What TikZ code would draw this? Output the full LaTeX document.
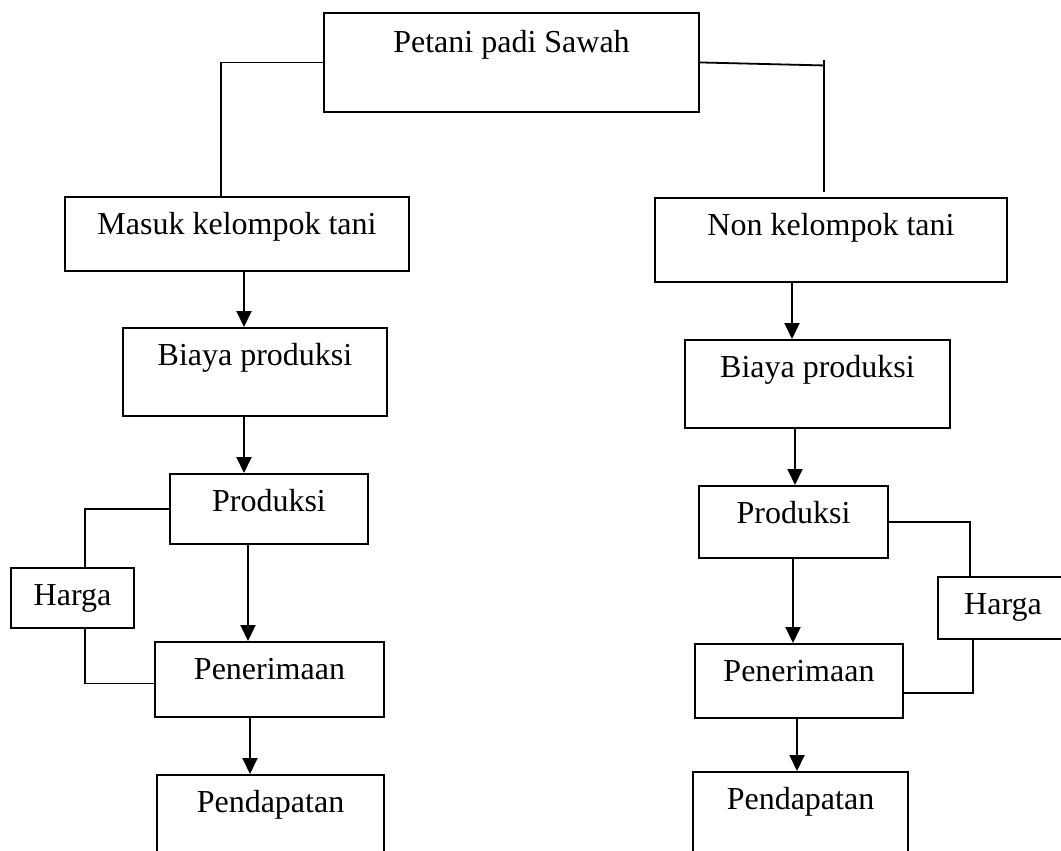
\documentclass[tikz,border=0pt]{standalone}
\usepackage{fontspec}
\setmainfont{Liberation Serif}
\usetikzlibrary{arrows.meta}
\begin{document}
\begin{tikzpicture}[
  x=1pt, y=-1pt,
  box/.style  = {draw, line width=1.9pt, inner sep=0pt, anchor=north,
                 text height=38pt, font=\fontsize{32}{38}\selectfont},
  arr/.style  = {-{Triangle[length=16pt, width=15pt]}, line width=2pt},
  link/.style = {line width=1.8pt}
]
\useasboundingbox (0,0) rectangle (1061,851);
\clip (0,0) rectangle (1061,851);
% boxes
\node[box, minimum width=375pt, text height=40pt, text depth=59pt] (petani) at (511.5,12) {Petani padi Sawah};
\node[box, minimum width=344pt, text depth=36pt] (masuk) at (237,196) {Masuk kelompok tani};
\node[box, minimum width=352pt, text depth=46pt] (non) at (831,197) {Non kelompok tani};
\node[box, minimum width=264pt, text depth=50pt] (biayaL) at (255,327) {Biaya produksi};
\node[box, minimum width=265pt, text depth=50pt] (biayaR) at (817.5,339) {Biaya produksi};
\node[box, minimum width=198pt, text depth=32pt] (prodL) at (269,473) {Produksi};
\node[box, minimum width=189pt, text depth=34pt] (prodR) at (793.5,485) {Produksi};
\node[box, minimum width=123pt, text depth=22pt] (hargaL) at (72.5,567) {Harga};
\node[box, minimum width=130pt, text depth=24pt] (hargaR) at (1003,576) {Harga};
\node[box, minimum width=229pt, text depth=37pt] (penL) at (269.5,641) {Penerimaan};
\node[box, minimum width=208pt, text depth=36pt] (penR) at (799,643) {Penerimaan};
\node[box, minimum width=227pt, text depth=80pt] (pendL) at (270.5,774) {Pendapatan};
\node[box, minimum width=215pt, text depth=80pt] (pendR) at (800.5,771) {Pendapatan};
% links from the top box
\draw[link] (petani.west) -| ([xshift=-16pt]masuk.north);
\coordinate (rk) at ([xshift=-7pt]non.north |- petani.east);
\draw[link] (petani.east) -- ([yshift=-3pt]rk);
\draw[link] ([yshift=2pt]rk) -- ([yshift=5pt]non.north -| rk);
% arrows, left column
\draw[arr] ([xshift=7pt]masuk.south) -- ([xshift=7pt]masuk.south |- biayaL.north);
\draw[arr] ([xshift=-11pt]biayaL.south) -- ([xshift=-11pt]biayaL.south |- prodL.north);
\draw[arr] ([xshift=-21pt]prodL.south) -- ([xshift=-21pt]prodL.south |- penL.north);
\draw[arr] ([xshift=-19.5pt]penL.south) -- ([xshift=-19.5pt]penL.south |- pendL.north);
% arrows, right column
\draw[arr] ([xshift=-39pt]non.south) -- ([xshift=-39pt]non.south |- biayaR.north);
\draw[arr] ([xshift=-22.5pt]biayaR.south) -- ([xshift=-22.5pt]biayaR.south |- prodR.north);
\draw[arr] ([xshift=-0.5pt]prodR.south) -- ([xshift=-0.5pt]prodR.south |- penR.north);
\draw[arr] ([xshift=-2pt]penR.south) -- ([xshift=-2pt]penR.south |- pendR.north);
% price links
\draw[link] (prodL.west) -| ([xshift=12.5pt]hargaL.north);
\draw[link] ([xshift=12.5pt]hargaL.south) |- ([yshift=-4pt]penL.west);
\draw[link] (prodR.east) -| ([xshift=-33pt]hargaR.north);
\draw[link] ([xshift=-30pt]hargaR.south) |- ([yshift=-12pt]penR.east);
\end{tikzpicture}
\end{document}
